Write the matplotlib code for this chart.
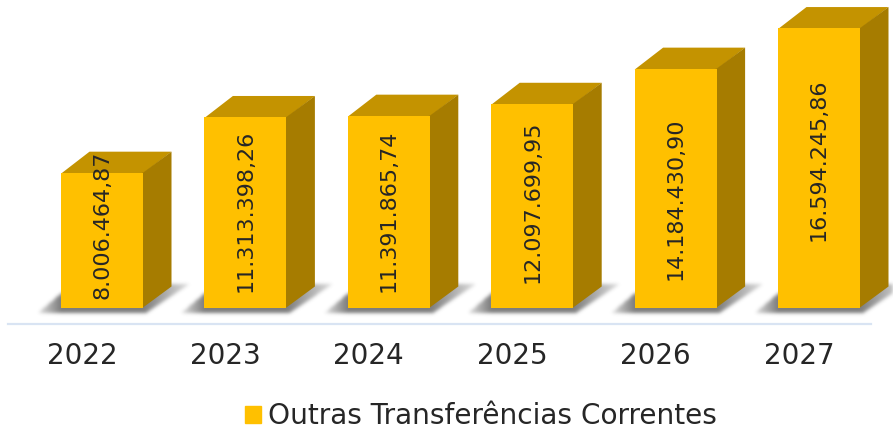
import numpy as np
import matplotlib
matplotlib.use('Agg')
import matplotlib.pyplot as plt
from matplotlib.colors import to_rgb
from matplotlib.patches import Polygon, Patch
from matplotlib.path import Path

anos = ['2022', '2023', '2024', '2025', '2026', '2027']
valores = [8006464.87, 11313398.26, 11391865.74, 12097699.95, 14184430.90, 16594245.86]
rotulos = ['8.006.464,87', '11.313.398,26', '11.391.865,74',
           '12.097.699,95', '14.184.430,90', '16.594.245,86']
serie = 'Outras Transferências Correntes'

W, H = 893, 432
px_cat = 143.4
px_val = 16.84 / 1e6
base_px = 307.5
x0_px = 82

amarelo = '#FFC000'
topo = '#C49300'
lado = '#A67C00'
texto = '#262626'

# escala: 1 categoria = 143.4 px, 1 milhao = 16.84 px
dx = 28.5 / px_cat
dy = 21 / px_val
larg = 82 / px_cat
desloc = 20 / px_cat
ajuste_rotulo = [15, 1, 1, 4, -11, 8]

fig = plt.figure(figsize=(W / 100, H / 100), dpi=100)
ax = fig.add_axes([0, 0, 1, 1])
xlim = (-x0_px / px_cat, (W - x0_px) / px_cat)
ylim = (-(H - base_px) / px_val, base_px / px_val)

x = np.arange(len(anos))

# sombra no chao: mascara em pixels, borrada e com fade nas pontas
gx = np.linspace(xlim[0], xlim[1], W, endpoint=False) + 0.5 / px_cat
gy = np.linspace(ylim[1], ylim[0], H, endpoint=False) - 0.5 / px_val
X, Y = np.meshgrid(gx, gy)
grade = np.column_stack([X.ravel(), Y.ravel()])
sombra = np.zeros((H, W))
for i in x:
    c = i + desloc - larg / 2
    pts = [(c - 23 / px_cat, -5.5 / px_val),
           (c + larg + 3 / px_cat, -5.5 / px_val),
           (c + larg + 47 / px_cat, 24 / px_val),
           (c + larg + 24 / px_cat, 24 / px_val),
           (c, 14 / px_val)]
    m = Path(pts).contains_points(grade).reshape(H, W).astype(float)
    esq = (c - X) * px_cat / 23
    dir_ = (X - c - larg) * px_cat / 47
    fade = 1 - 0.75 * np.clip(np.maximum(esq, dir_), 0, 1)
    sombra = np.maximum(sombra, m * fade)

n = np.arange(-6, 7)
kernel = np.exp(-n ** 2 / (2 * 1.8 ** 2))
kernel = kernel / kernel.sum()
sombra = np.apply_along_axis(lambda l: np.convolve(l, kernel, mode='same'), 0, sombra)
sombra = np.apply_along_axis(lambda l: np.convolve(l, kernel, mode='same'), 1, sombra)

rgba = np.zeros((H, W, 4))
rgba[..., :3] = to_rgb('#666666')
rgba[..., 3] = sombra * 0.85
ax.imshow(rgba, extent=(xlim[0], xlim[1], ylim[0], ylim[1]), aspect='auto', zorder=1)

ax.bar(x + desloc, valores, width=larg, color=amarelo, lw=0, zorder=4)

for i, v in zip(x, valores):
    c = i + desloc
    e, d = c - larg / 2, c + larg / 2
    sob = 1 / px_cat
    ax.add_patch(Polygon([(e, v - 1 / px_val), (d, v - 1 / px_val), (d + dx, v + dy), (e + dx, v + dy)],
                         closed=True, fc=topo, ec='none', zorder=3))
    ax.add_patch(Polygon([(d - sob, 0), (d, 0), (d + dx, dy), (d + dx, v + dy), (d, v), (d - sob, v)],
                         closed=True, fc=lado, ec='none', zorder=3))

for i, v, r, aj in zip(x, valores, rotulos, ajuste_rotulo):
    ax.text(i + desloc, v / 2 + aj / px_val, r, rotation=90, ha='center', va='center',
            fontsize=16, color=texto, zorder=5)

# linha do eixo
ax.plot([-(x0_px - 8) / px_cat, (871 - x0_px) / px_cat], [-16 / px_val, -16 / px_val],
        color='#D9E4F3', lw=1.6, zorder=2)

for i, a in zip(x, anos):
    ax.text(i, -49 / px_val, a, ha='center', va='center', fontsize=20, color=texto)

leg = ax.legend(handles=[Patch(color=amarelo, label=serie)], loc='center',
                bbox_to_anchor=(481 / W, 1 - 416 / H), frameon=False, fontsize=20.2,
                handlelength=0.55, handleheight=0.55, handletextpad=0.25,
                labelcolor=texto)

ax.set_xlim(xlim)
ax.set_ylim(ylim)
ax.axis('off')
fig.savefig('out.png', dpi=100)
